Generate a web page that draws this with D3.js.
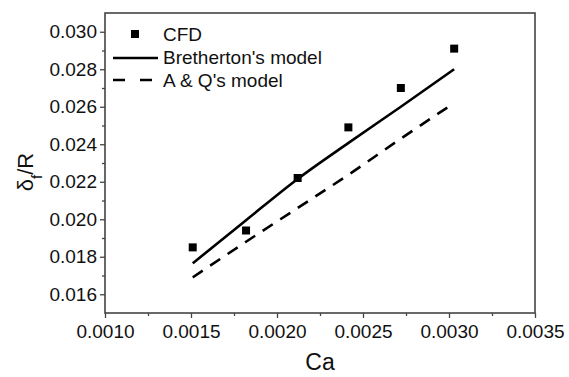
<!DOCTYPE html>
<html>
<head>
<meta charset="utf-8">
<script src="https://cdn.jsdelivr.net/npm/d3@7"></script>
<style>
  body { margin: 0; background: #fff; }
  text { font-family: "Liberation Sans", Arial, sans-serif; fill: #111; }
</style>
</head>
<body>
<div id="chart"></div>
<script>
// CFD points
const cfdCa = [0.00151, 0.00182, 0.00212, 0.002415, 0.00272, 0.00303];
const cfdDelta = [0.0185, 0.0194, 0.0222, 0.0249, 0.0270, 0.0291];

// model curves
const brCa = [0.00151, 0.00182, 0.00212, 0.00242, 0.00272, 0.00303];
const brDelta = [0.01765, 0.01995, 0.02215, 0.02410, 0.02600, 0.02800];
const aqCa = [0.00151, 0.00182, 0.00212, 0.00242, 0.00272, 0.00303];
const aqDelta = [0.01690, 0.01880, 0.02060, 0.02240, 0.02430, 0.02620];

const xTicks = [0.0010, 0.0015, 0.0020, 0.0025, 0.0030, 0.0035];
const yTicks = [0.016, 0.018, 0.020, 0.022, 0.024, 0.026, 0.028, 0.030];
const legendLabels = ["CFD", "Bretherton's model", "A & Q's model"];

const W = 569, H = 377;
const margin = {top: 13, right: 34, bottom: 64, left: 105};
const width = W - margin.left - margin.right,
      height = H - margin.top - margin.bottom;

const svg = d3.select("#chart").append("svg")
  .attr("width", W).attr("height", H);
const g = svg.append("g")
  .attr("transform", `translate(${margin.left},${margin.top})`);

const x = d3.scaleLinear().domain([0.001, 0.0035]).range([0, width]);
const y = d3.scaleLinear().domain([0.015, 0.031]).range([height, 0]);

const axisColor = "#444";

// minor ticks
const xMinor = d3.range(0.00125, 0.0035, 0.0005);
const yMinor = d3.range(0.017, 0.0305, 0.002);
g.append("g").attr("transform", `translate(0,${height})`)
  .call(d3.axisBottom(x).tickValues(xMinor).tickSize(3).tickFormat(""))
  .call(a => a.select(".domain").remove())
  .selectAll("line").attr("stroke", axisColor).attr("stroke-width", 1.3);
g.append("g")
  .call(d3.axisLeft(y).tickValues(yMinor).tickSize(3).tickFormat(""))
  .call(a => a.select(".domain").remove())
  .selectAll("line").attr("stroke", axisColor).attr("stroke-width", 1.3);

// major axes
const xAxis = g.append("g").attr("transform", `translate(0,${height})`)
  .call(d3.axisBottom(x).tickValues(xTicks).tickSize(5).tickPadding(7)
    .tickFormat(d3.format(".4f")));
const yAxis = g.append("g")
  .call(d3.axisLeft(y).tickValues(yTicks).tickSize(5).tickPadding(3)
    .tickFormat(d3.format(".3f")));
[xAxis, yAxis].forEach(a => {
  a.select(".domain").remove();
  a.selectAll("line").attr("stroke", axisColor).attr("stroke-width", 1.3);
  a.selectAll("text").style("font-size", "19px")
    .style("font-family", "'Liberation Sans', Arial, sans-serif").attr("fill", "#111");
});

// frame
g.append("rect").attr("x", 0).attr("y", 0)
  .attr("width", width).attr("height", height)
  .attr("fill", "none").attr("stroke", axisColor).attr("stroke-width", 1.6);

// lines
const line = d3.line().x(d => x(d[0])).y(d => y(d[1])).curve(d3.curveMonotoneX);
g.append("path").datum(d3.zip(brCa, brDelta))
  .attr("d", line).attr("fill", "none").attr("stroke", "#000").attr("stroke-width", 2.6);
g.append("path").datum(d3.zip(aqCa, aqDelta))
  .attr("d", line).attr("fill", "none").attr("stroke", "#000").attr("stroke-width", 2.6)
  .attr("stroke-dasharray", "12,9");

// CFD squares
const sq = 8;
g.selectAll(".cfd").data(d3.zip(cfdCa, cfdDelta)).enter().append("rect")
  .attr("class", "cfd")
  .attr("x", d => x(d[0]) - sq / 2).attr("y", d => y(d[1]) - sq / 2)
  .attr("width", sq).attr("height", sq).attr("fill", "#000");

// legend
const leg = g.append("g").attr("transform", "translate(8,21)");
leg.append("rect").attr("x", 22 - sq / 2).attr("y", -sq / 2)
  .attr("width", sq).attr("height", sq).attr("fill", "#000");
leg.append("line").attr("x1", 0).attr("x2", 45).attr("y1", 24).attr("y2", 24)
  .attr("stroke", "#000").attr("stroke-width", 2.6);
leg.append("line").attr("x1", 0).attr("x2", 45).attr("y1", 46).attr("y2", 46)
  .attr("stroke", "#000").attr("stroke-width", 2.6).attr("stroke-dasharray", "12,15");
leg.selectAll(".lt").data(legendLabels).enter().append("text")
  .attr("x", 50).attr("y", (d, i) => i * 23)
  .attr("dy", "0.35em").style("font-size", "19px").text(d => d);

// axis titles
svg.append("text").attr("x", margin.left + width / 2).attr("y", 370)
  .attr("text-anchor", "middle").style("font-size", "23px").text("Ca");

const yt = svg.append("text")
  .attr("transform", "translate(33,172) rotate(-90)")
  .attr("text-anchor", "middle").style("font-size", "22px");
yt.append("tspan").text("δ");
yt.append("tspan").attr("baseline-shift", "sub").style("font-size", "15px").text("f");
yt.append("tspan").text("/R");
</script>
</body>
</html>
